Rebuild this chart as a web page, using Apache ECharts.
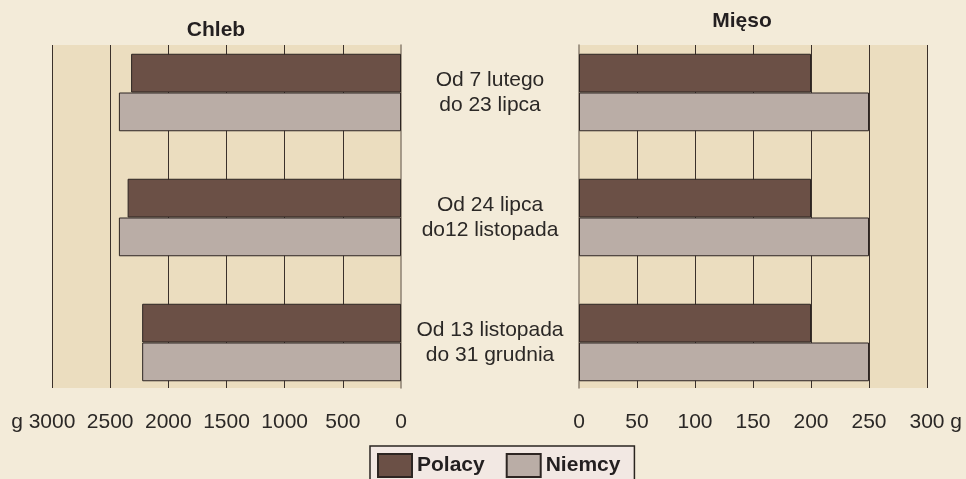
<!DOCTYPE html>
<html>
<head>
<meta charset="utf-8">
<script src="https://cdn.jsdelivr.net/npm/echarts@6/dist/echarts.min.js"></script>
<style>
  html, body { margin: 0; padding: 0; background: #F3EBD9; }
  #chart { width: 966px; height: 479px; }
</style>
</head>
<body>
<div id="chart"></div>
<script>
'use strict';

// periods (categories)
const periods = ['Od 7 lutego\ndo 23 lipca', 'Od 24 lipca\ndo12 listopada', 'Od 13 listopada\ndo 31 grudnia'];
// bread ration, g
const breadPolacy = [2320, 2350, 2225];
const breadNiemcy = [2425, 2425, 2225];
// meat ration, g
const meatPolacy = [200, 200, 200];
const meatNiemcy = [250, 250, 250];

const fontFamily = '"Liberation Sans", Arial, sans-serif';
const textColor = '#2b2826';
const gridColor = '#3a302a';
const zeroColor = '#8c8072';
const plotBg = '#EBDDBF';
const colPolacy = '#6B5046';
const colNiemcy = '#BAADA6';
const barBorder = '#2d2522';

const barStyle = color => ({ color, borderColor: barBorder, borderWidth: 1 });

const bgAxisLabel = {
    color: textColor,
    fontFamily,
    fontSize: 21,
    margin: 24,
    hideOverlap: false
};

const chart = echarts.init(document.getElementById('chart'));
chart.setOption({
    backgroundColor: '#F3EBD9',
    animation: false,
    textStyle: { fontFamily },
    graphic: [
        {
            type: 'text', x: 216, y: 30,
            style: { text: 'Chleb', font: 'bold 21px ' + fontFamily, fill: '#231f20', align: 'center', verticalAlign: 'middle' }
        },
        {
            type: 'text', x: 742, y: 21,
            style: { text: 'Mięso', font: 'bold 21px ' + fontFamily, fill: '#231f20', align: 'center', verticalAlign: 'middle' }
        }
    ],
    legend: {
        data: ['Polacy', 'Niemcy'],
        left: 370,
        top: 446,
        orient: 'horizontal',
        icon: 'rect',
        itemWidth: 34,
        itemHeight: 23,
        itemGap: 21,
        padding: [7, 14, 7, 7],
        backgroundColor: '#F2E8E3',
        borderColor: '#2a2420',
        borderWidth: 1.5,
        textStyle: { color: '#231f20', fontFamily, fontSize: 21, fontWeight: 'bold' }
    },
    grid: [
        // background panels
        { left: 52, right: 565, top: 45, height: 343, show: true, backgroundColor: plotBg, borderWidth: 0 },
        { left: 579, right: 39, top: 45, height: 343, show: true, backgroundColor: plotBg, borderWidth: 0 },
        // bar panels
        { left: 52, right: 565, top: 30, height: 375 },
        { left: 579, right: 39, top: 30, height: 375 }
    ],
    xAxis: [
        {
            gridIndex: 0, type: 'value', min: 0, max: 3000, interval: 500, inverse: true, position: 'bottom',
            axisLine: { show: false }, axisTick: { show: false },
            splitLine: { show: true, showMinLine: false, lineStyle: { color: gridColor, width: 1 } },
            axisLabel: Object.assign({}, bgAxisLabel, {
                showMaxLabel: false,
                formatter: v => String(v)
            })
        },
        {
            gridIndex: 1, type: 'value', min: 0, max: 300, interval: 50, position: 'bottom',
            axisLine: { show: false }, axisTick: { show: false },
            splitLine: { show: true, showMinLine: false, lineStyle: { color: gridColor, width: 1 } },
            axisLabel: Object.assign({}, bgAxisLabel, {
                showMaxLabel: true,
                formatter: v => (v === 300 ? '   300 g' : String(v))
            })
        },
        {
            gridIndex: 2, type: 'value', min: 0, max: 3000, inverse: true, show: false
        },
        {
            gridIndex: 3, type: 'value', min: 0, max: 300, show: false
        },
        {
            // the end label of the bread axis, with its unit
            gridIndex: 0, type: 'value', min: 0, max: 3000, inverse: true, position: 'bottom',
            axisLine: { show: false }, axisTick: { show: false }, splitLine: { show: false },
            axisLabel: Object.assign({}, bgAxisLabel, {
                customValues: [3000],
                formatter: v => 'g ' + v + '   '
            })
        }
    ],
    yAxis: [
        {
            gridIndex: 0, type: 'value', position: 'right',
            axisLine: { show: true, onZero: false, lineStyle: { color: zeroColor, width: 1.5 } },
            axisTick: { show: false }, axisLabel: { show: false }, splitLine: { show: false }
        },
        {
            gridIndex: 1, type: 'value', position: 'left',
            axisLine: { show: true, onZero: false, lineStyle: { color: zeroColor, width: 1.5 } },
            axisTick: { show: false }, axisLabel: { show: false }, splitLine: { show: false }
        },
        {
            gridIndex: 2, type: 'category', data: periods, inverse: true, position: 'right',
            axisLine: { show: false }, axisTick: { show: false }, splitLine: { show: false },
            axisLabel: {
                align: 'center',
                margin: 89,
                color: textColor,
                fontFamily,
                fontSize: 21,
                lineHeight: 25
            }
        },
        {
            gridIndex: 3, type: 'category', data: periods, inverse: true, show: false
        }
    ],
    series: [
        {
            name: 'Polacy', type: 'bar', xAxisIndex: 2, yAxisIndex: 2,
            barGap: '0%', barCategoryGap: '38%',
            itemStyle: barStyle(colPolacy), data: breadPolacy
        },
        {
            name: 'Niemcy', type: 'bar', xAxisIndex: 2, yAxisIndex: 2,
            barGap: '0%', barCategoryGap: '38%',
            itemStyle: barStyle(colNiemcy), data: breadNiemcy
        },
        {
            name: 'Polacy', type: 'bar', xAxisIndex: 3, yAxisIndex: 3,
            barGap: '0%', barCategoryGap: '38%',
            itemStyle: barStyle(colPolacy), data: meatPolacy
        },
        {
            name: 'Niemcy', type: 'bar', xAxisIndex: 3, yAxisIndex: 3,
            barGap: '0%', barCategoryGap: '38%',
            itemStyle: barStyle(colNiemcy), data: meatNiemcy
        }
    ]
});
</script>
</body>
</html>
